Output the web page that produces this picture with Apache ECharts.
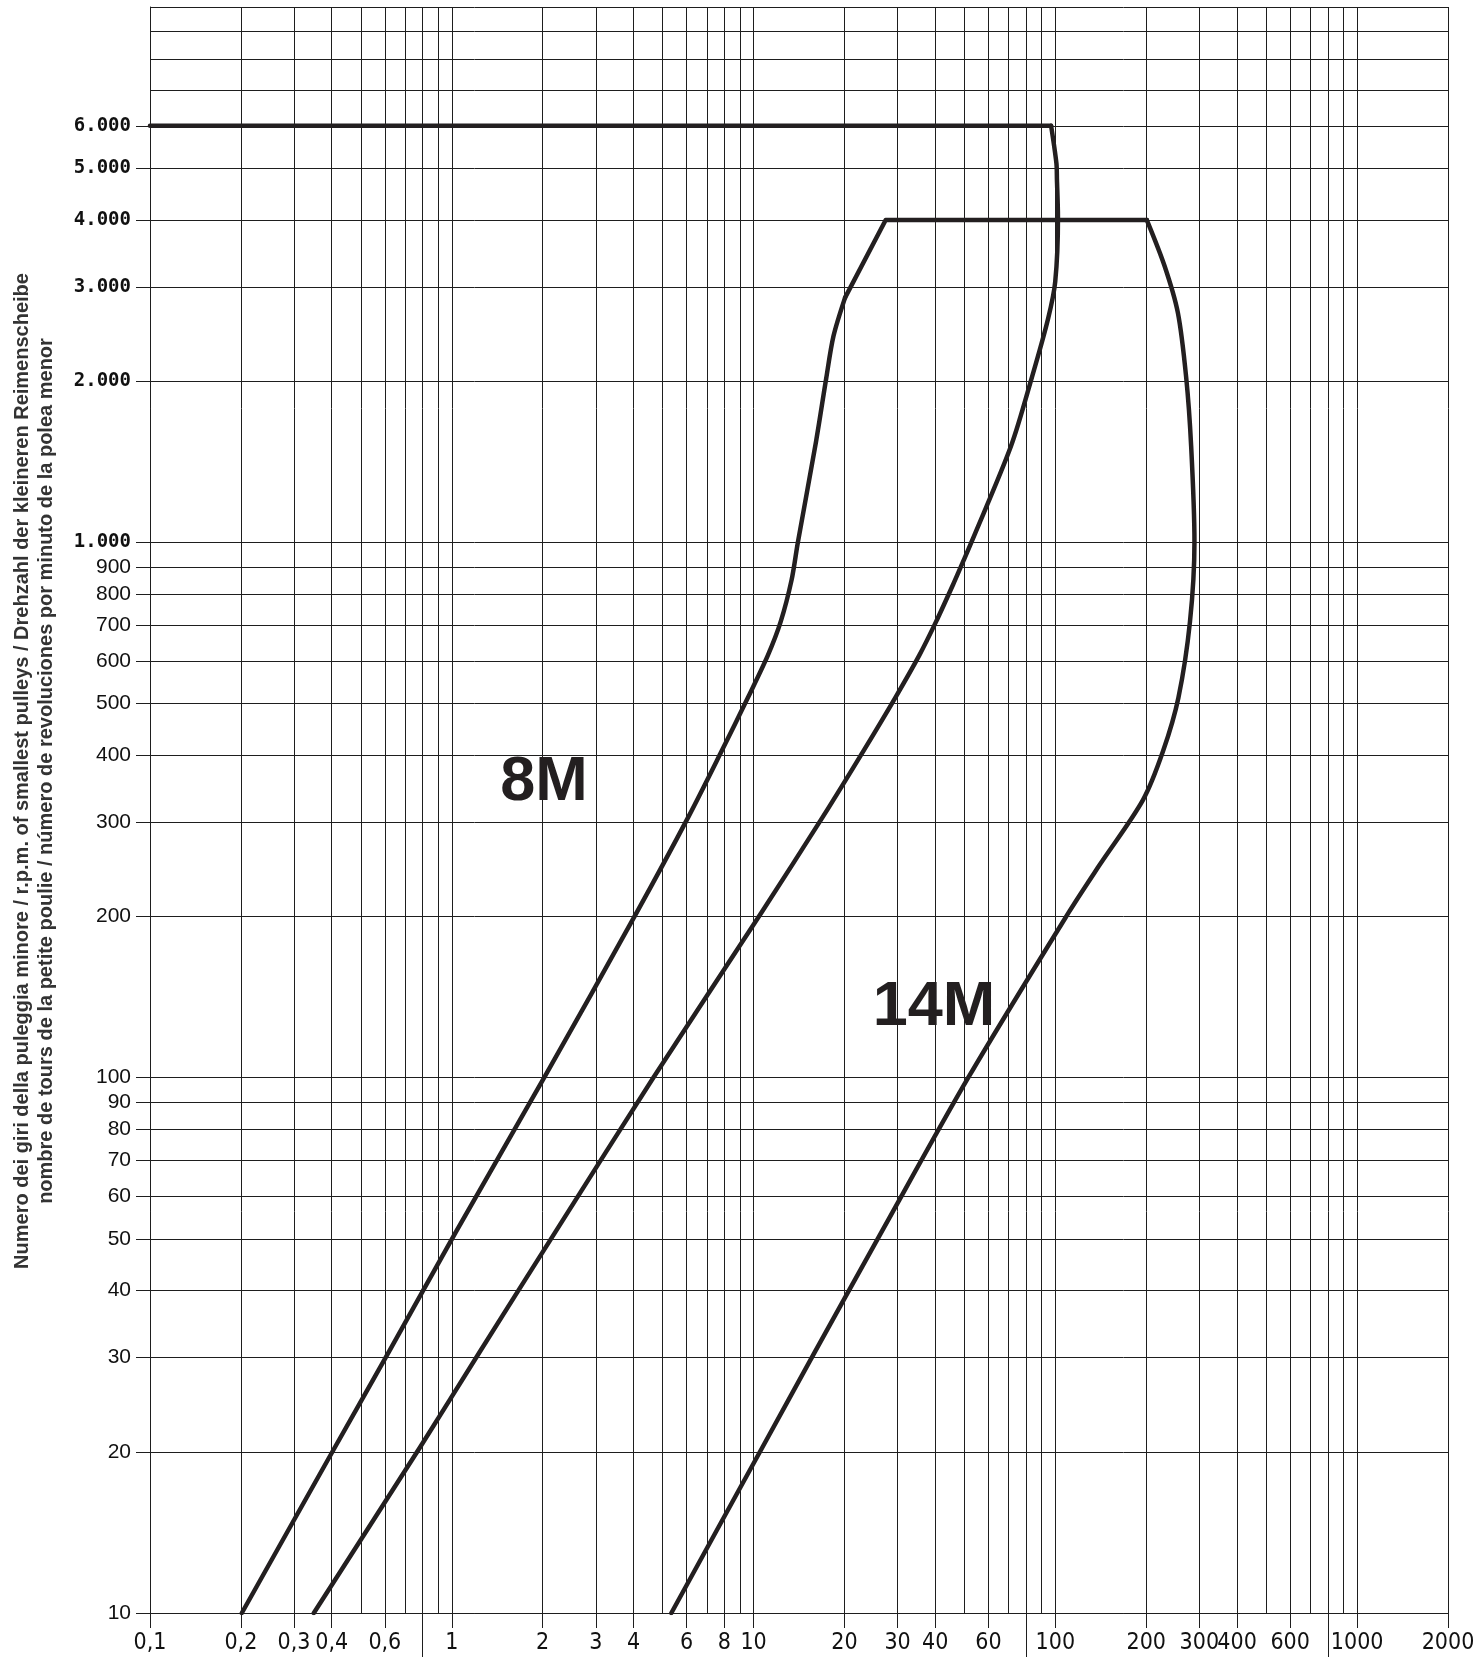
<!DOCTYPE html>
<html>
<head>
<meta charset="utf-8">
<title>8M / 14M</title>
<script src="https://cdn.jsdelivr.net/npm/echarts@6/dist/echarts.min.js"></script>
<style>
  html, body { margin: 0; padding: 0; background: #ffffff; }
  #chart { width: 1480px; height: 1657px; }
</style>
</head>
<body>
<div id="chart"></div>
<script>
// grid lines (log paper)
const xGridValues = [0.1, 0.2, 0.3, 0.4, 0.5, 0.6, 0.7, 0.8, 0.9,
  1, 2, 3, 4, 5, 6, 7, 8, 9, 10, 20, 30, 40, 50, 60, 70, 80, 90,
  100, 200, 300, 400, 500, 600, 700, 800, 900, 1000, 2000];
const yGridValues = [10, 20, 30, 40, 50, 60, 70, 80, 90,
  100, 200, 300, 400, 500, 600, 700, 800, 900,
  1000, 2000, 3000, 4000, 5000, 6000, 7000, 8000, 9000, 10000];

// tick labels
const xLabelValues = [0.1, 0.2, 0.3, 0.4, 0.6, 1, 2, 3, 4, 6, 8, 10, 20, 30, 40, 60,
  100, 200, 300, 400, 600, 1000, 2000];
const xLabelTexts = ['0,1', '0,2', '0,3', '0,4', '0,6', '1', '2', '3', '4', '6', '8', '10', '20', '30', '40', '60',
  '100', '200', '300', '400', '600', '1000', '2000'];
const xLongTicks = [0.8, 80, 800];
const yLabelValues = [10, 20, 30, 40, 50, 60, 70, 80, 90,
  100, 200, 300, 400, 500, 600, 700, 800, 900,
  1000, 2000, 3000, 4000, 5000, 6000];
const yLabelTexts = ['10', '20', '30', '40', '50', '60', '70', '80', '90',
  '100', '200', '300', '400', '500', '600', '700', '800', '900',
  '1.000', '2.000', '3.000', '4.000', '5.000', '6.000'];

// 8M limit : horizontal at 6000 rpm, then the curve down to the bottom
const top8M = [[0.1, 6000], [96.8, 6000]];
const curve8M = [[96.8, 6000], [100.8, 5105], [101.2, 4766], [102, 4050], [99.9, 3069],
  [94.5, 2610], [83.6, 2033], [71.3, 1513], [52.8, 1003], [49.7, 926], [46, 838],
  [40.25, 711], [35.4, 615], [29.5, 513], [23.08, 407], [17.02, 308], [10.65, 204],
  [4.67, 100.3], [2.2, 51.4], [1.24, 30.8], [0.785, 20.4], [0.349, 10]];

// 14M limit : left curve, top at 4000 rpm, right curve
const left14M = [[0.2015, 10], [0.41, 20.4], [0.62, 30.8], [1.03, 51.4], [2.03, 100.3],
  [4.11, 204], [6.1, 308], [7.83, 407], [9.58, 513], [11.15, 615], [12.3, 711],
  [13.36, 850], [14.02, 1000], [16.1, 1541], [17.4, 2022], [18.4, 2428], [20.1, 2865]];
const top14M = [[20.1, 2865], [27.4, 4000], [201, 4000]];
const right14M = [[201, 4000], [230.1, 3283], [254.6, 2686], [271.3, 2033], [281.8, 1513],
  [289, 1003], [279.3, 711], [255.6, 512], [227.3, 407], [195, 330], [139.7, 249],
  [111, 204], [51.6, 100.3], [26.5, 51.4], [16, 30.8], [10.7, 20.4], [5.34, 10]];

const zoneLabels = [['8M', 2.02, 355], ['14M', 39.6, 135]];

const yName = 'Numero dei giri della puleggia minore / r.p.m. of smallest pulleys / Drehzahl der kleineren Reimenscheibe\n' +
  'nombre de tours de la petite poulie / número de revoluciones por minuto de la polea menor';

const ink = '#231f20';
const gridColor = '#1e1e1e';
const narrowFont = '"Liberation Sans Narrow", "DejaVu Sans Condensed", "Liberation Sans", sans-serif';

const chart = echarts.init(document.getElementById('chart'));

const curveSeries = (data, smooth) => ({
  type: 'line',
  data: data,
  xAxisIndex: 0,
  yAxisIndex: 0,
  showSymbol: false,
  symbol: 'none',
  smooth: smooth,
  silent: true,
  lineStyle: { color: ink, width: 4.5, cap: 'round', join: 'round' },
  z: 5
});

const option = {
  backgroundColor: '#ffffff',
  animation: false,
  grid: { left: 150, right: 32, top: 7, bottom: 44, containLabel: false },
  xAxis: [
    {
      // grid lines only
      type: 'log', logBase: 10, min: 0.1, max: 2000,
      axisLine: { show: false, onZero: false },
      axisTick: { show: false, customValues: xGridValues },
      axisLabel: { show: false },
      splitLine: { show: true, lineStyle: { color: gridColor, width: 1 } }
    },
    {
      // ticks and labels
      type: 'log', logBase: 10, min: 0.1, max: 2000, position: 'bottom',
      axisLine: { show: true, onZero: false, lineStyle: { color: gridColor, width: 1 } },
      axisTick: { show: true, length: 15, customValues: xLabelValues, lineStyle: { color: gridColor, width: 1 } },
      axisLabel: {
        customValues: xLabelValues,
        margin: 19,
        color: '#111',
        fontFamily: narrowFont,
        fontSize: 23,
        formatter: (v) => {
          const i = xLabelValues.indexOf(v);
          return i >= 0 ? xLabelTexts[i] : '';
        }
      },
      splitLine: { show: false }
    },
    {
      // long separator ticks
      type: 'log', logBase: 10, min: 0.1, max: 2000, position: 'bottom',
      axisLine: { show: false, onZero: false },
      axisTick: { show: true, length: 45, customValues: xLongTicks, lineStyle: { color: gridColor, width: 1 } },
      axisLabel: { show: false },
      splitLine: { show: false }
    }
  ],
  yAxis: [
    {
      type: 'log', logBase: 10, min: 10, max: 10000,
      axisLine: { show: false, onZero: false },
      axisTick: { show: false, customValues: yGridValues },
      axisLabel: { show: false },
      splitLine: { show: true, lineStyle: { color: gridColor, width: 1 } }
    },
    {
      type: 'log', logBase: 10, min: 10, max: 10000, position: 'left',
      axisLine: { show: true, onZero: false, lineStyle: { color: gridColor, width: 1 } },
      axisTick: { show: true, length: 14, customValues: yLabelValues, lineStyle: { color: gridColor, width: 1 } },
      axisLabel: {
        customValues: yLabelValues,
        margin: 19,
        formatter: (v) => {
          const i = yLabelValues.indexOf(v);
          if (i < 0) return '';
          return v >= 1000 ? '{m|' + yLabelTexts[i] + '}' : '{n|' + yLabelTexts[i] + '}';
        },
        rich: {
          m: { fontFamily: '"DejaVu Sans Mono", monospace', fontWeight: 'bold', fontSize: 19, color: '#111' },
          n: { fontFamily: '"Liberation Sans", Arial, sans-serif', fontSize: 21, color: '#111' }
        }
      },
      splitLine: { show: false },
      name: yName,
      nameLocation: 'middle',
      nameRotate: 90,
      nameGap: 92,
      nameTextStyle: {
        fontFamily: '"Liberation Sans", Arial, sans-serif',
        fontWeight: 'bold',
        fontSize: 20,
        lineHeight: 24,
        color: '#333',
        align: 'center',
        padding: [0, 0, 0, 78]
      }
    }
  ],
  series: [
    curveSeries(top8M, false),
    curveSeries(curve8M, 0.3),
    curveSeries(left14M, 0.3),
    curveSeries(top14M, false),
    curveSeries(right14M, 0.3),
    {
      type: 'scatter',
      xAxisIndex: 0,
      yAxisIndex: 0,
      symbolSize: 0,
      silent: true,
      itemStyle: { opacity: 1 },
      data: zoneLabels.map(d => ({ name: d[0], value: [d[1], d[2]] })),
      label: {
        show: true,
        position: 'inside',
        opacity: 1,
        formatter: (p) => p.name,
        fontFamily: '"Liberation Sans", Arial, sans-serif',
        fontWeight: 'bold',
        fontSize: 63,
        color: ink
      },
      z: 6
    }
  ]
};

chart.setOption(option);
window.addEventListener('resize', () => chart.resize());
</script>
</body>
</html>
